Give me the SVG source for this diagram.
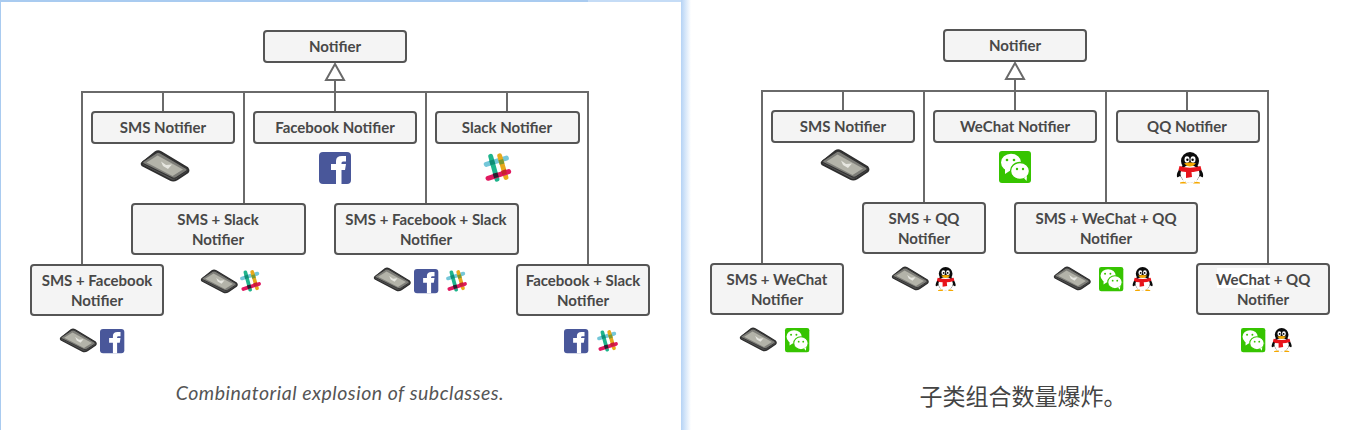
<svg xmlns="http://www.w3.org/2000/svg" xmlns:xlink="http://www.w3.org/1999/xlink" width="1359" height="430" viewBox="0 0 1359 430">
<style>
text{font-family:"Lato","Noto Sans","Noto Sans CJK SC",sans-serif}
.b{fill:#f4f4f4;stroke:#555;stroke-width:2}
.t{font-size:15px;font-weight:700;fill:#484848;text-anchor:middle}
.l{fill:none;stroke:#6a6a6a;stroke-width:2}
.a{fill:#fff;stroke:#6a6a6a;stroke-width:2}
</style>
<defs>
<linearGradient id="gr" x1="0" x2="1" y1="0" y2="0"><stop offset="0" stop-color="#b5d3f5"/><stop offset="1" stop-color="#fff"/></linearGradient>
<symbol id="phone" overflow="visible" viewBox="-24 -15 48 30" width="48" height="30">
<path d="M-23,-3 L-9.500,-14 Q-7,-15.500 -4,-14 L22.500,2 Q24.500,4.500 22.500,6.500 L12,13.500 Q8.500,15.500 5.500,14 L-22.500,-.5 Q-24,-2 -23,-3 Z" fill="#555" stroke="#2e2e2e" stroke-width="1.800"/>
<path d="M-22,-4.500 L-9,-13 Q-7,-14.500 -4.500,-13 L21.500,2.500 Q23,4 21.500,5 L11.500,11.500 Q9,13 6.500,11.500 L-22,-2.500 Q-23,-3.500 -22,-4.500 Z" fill="#7d7d78" stroke="#333" stroke-width="1.200"/>
<path d="M-18.500,-3.500 L-7.500,-10.500 L18,3.500 L7.500,10 Z" fill="#b3b3a9"/>
<path d="M-4,-4.500 L1,-1 L7,-1.500 L3,3 L-2,0 Z" fill="#e6e6e0"/>
</symbol>
<symbol id="fb" overflow="visible" viewBox="-16 -16 32 32" width="32" height="32">
<rect x="-16" y="-16" width="32" height="32" rx="4" fill="#49579a"/>
<path d="M1,16 V2 H-4 V-4 H1 V-7 Q1,-12 7,-12 H11 V-6.500 H8 Q6.500,-6.500 6.500,-5 V-4 H11 L10,2 H6.500 V16 Z" fill="#fff"/>
</symbol>
<symbol id="slack" overflow="visible" viewBox="-16 -16 32 32" width="32" height="32">
<g transform="scale(.9)">
<g stroke-width="5.400" stroke-linecap="round" fill="none">
<line x1="-12" y1="-4" x2="10.500" y2="-11" stroke="#74c7d9"/>
<line x1="-7" y1="-13" x2="0" y2="12.500" stroke="#1eb48c"/>
<line x1="3" y1="-13.500" x2="10" y2="10.500" stroke="#e8a91c"/>
<line x1="-10" y1="11.500" x2="13" y2="4" stroke="#e0195f"/>
</g>
<path d="M-8.600,-8 L-3.500,-9.500 L-2,-4.500 L-7.200,-3 Z" fill="#0f8d75"/>
<path d="M1.600,-8.500 L6.800,-10 L8.200,-5 L3,-3.500 Z" fill="#7d9a2f"/>
<path d="M-4.800,6.500 L.5,5 L2,10 L-3.200,11.500 Z" fill="#2a2030"/>
<path d="M4.500,3.200 L9.800,1.500 L11,6 L6,7.800 Z" fill="#c8222e"/>
</g>
</symbol>
<symbol id="wc" overflow="visible" viewBox="-16 -16 32 32" width="32" height="32">
<rect x="-16" y="-16" width="32" height="32" rx="3" fill="#36c400"/>
<ellipse cx="-4" cy="-4.500" rx="10" ry="8.700" fill="#fff"/>
<path d="M-10,1 L-10,7 L-4,3 Z" fill="#fff"/>
<ellipse cx="5" cy="4" rx="9.500" ry="8.500" fill="#fff" stroke="#36c400" stroke-width="1.400"/>
<path d="M9,11 L11.500,14 L12,9 Z" fill="#fff"/>
<g fill="#36c400"><circle cx="-8" cy="-7" r="1.300"/><circle cx="-1" cy="-7" r="1.300"/><circle cx="2" cy="2" r="1.200"/><circle cx="8" cy="2" r="1.200"/></g>
</symbol>
<symbol id="qq" overflow="visible" viewBox="-14 -16 28 32" width="28" height="32">
<ellipse cx="0" cy="-7" rx="9" ry="9" fill="#0b0b0b"/>
<ellipse cx="0" cy="4.500" rx="10.500" ry="10" fill="#0b0b0b"/>
<path d="M-9,-1 Q-14,5 -13,9 Q-11,10 -8,6 Z M9,-1 Q14,5 13,9 Q11,10 8,6 Z" fill="#0b0b0b"/>
<ellipse cx="0" cy="6" rx="9.500" ry="9" fill="#fff"/>
<ellipse cx="-3" cy="-8.500" rx="2.500" ry="3.200" fill="#fff"/><ellipse cx="3" cy="-8.500" rx="2.500" ry="3.200" fill="#fff"/>
<circle cx="-2.600" cy="-8.200" r="1.200" fill="#000"/><circle cx="2.600" cy="-8.200" r="1.200" fill="#000"/>
<path d="M-6,-4.500 Q0,-6.500 6,-4.500 Q3,-1.500 0,-1.500 Q-3,-1.500 -6,-4.500 Z" fill="#f5a800"/>
<path d="M-10.500,-2 Q0,1.500 10.500,-2 L11.500,2 Q5,4 1.500,4 L2,9 L-4,10 L-4,4 Q-9,4 -11.500,2 Z" fill="#e8141c"/>
<path d="M-10,14.500 Q-5,12.500 -3,15.500 H-10 Z M10,14.500 Q5,12.500 3,15.500 H10 Z" fill="#f5a800"/>
</symbol>
</defs>
<rect width="1359" height="430" fill="#fff"/>
<g id="panel">
<rect x="0" y="0" width="588" height="2" fill="#a9cbf0"/>
<rect x="588" y="0" width="93" height="2" fill="#c5dcf6"/>
<rect x="0" y="0" width="1" height="430" fill="#a9cbf0"/>
<rect x="681" y="0" width="10" height="430" fill="url(#gr)"/>
</g>
<g id="connectors">
<path class="l" d="M82,265 V92 H588 V265 M163,92 V112 M244,92 V204 M335,80 V112 M426,92 V204 M507,92 V112"/>
<path class="a" d="M335,64 L344,80 H326 Z"/>
<path class="l" d="M762,264 V91 H1268 V264 M843,91 V111 M924,91 V203 M1015,79 V111 M1106,91 V203 M1187,91 V111"/>
<path class="a" d="M1015,63 L1024,79 H1006 Z"/>
</g>
<g id="n-notifier"><rect class="b" x="264" y="31" width="142" height="31" rx="3"/><text class="t" x="335" y="52">Notifier</text></g>
<g id="n-sms"><rect class="b" x="92" y="112" width="142" height="31" rx="3"/><text class="t" x="163" y="133">SMS Notifier</text><use href="#phone" x="141" y="151"/></g>
<g id="n-facebook"><rect class="b" x="254" y="112" width="162" height="31" rx="3"/><text class="t" x="335" y="133">Facebook Notifier</text><use href="#fb" x="319" y="152"/></g>
<g id="n-slack"><rect class="b" x="436" y="112" width="143" height="31" rx="3"/><text class="t" x="507" y="133">Slack Notifier</text><use href="#slack" x="481" y="152"/></g>
<g id="n-sms-slack"><rect class="b" x="132" y="204" width="173" height="50" rx="3"/><text class="t" x="218" y="225">SMS + Slack</text><text class="t" x="218" y="245">Notifier</text>
<use href="#phone" transform="translate(201,270) scale(.76)"/><use href="#slack" transform="translate(238,269) scale(.76)"/></g>
<g id="n-sms-fb-slack"><rect class="b" x="335" y="204" width="183" height="50" rx="3"/><text class="t" x="426" y="225">SMS + Facebook + Slack</text><text class="t" x="426" y="245">Notifier</text>
<use href="#phone" transform="translate(374,268) scale(.76)"/><use href="#fb" transform="translate(414,269) scale(.76)"/><use href="#slack" transform="translate(444,269) scale(.76)"/></g>
<g id="n-sms-fb"><rect class="b" x="31" y="265" width="132" height="50" rx="3"/><text class="t" x="97" y="286">SMS + Facebook</text><text class="t" x="97" y="306">Notifier</text>
<use href="#phone" transform="translate(60,329) scale(.76)"/><use href="#fb" transform="translate(100,329) scale(.76)"/></g>
<g id="n-fb-slack"><rect class="b" x="517" y="265" width="132" height="50" rx="3"/><text class="t" x="583" y="286">Facebook + Slack</text><text class="t" x="583" y="306">Notifier</text>
<use href="#fb" transform="translate(564,329) scale(.76)"/><use href="#slack" transform="translate(595,329) scale(.76)"/></g>
<text x="340" y="400" text-anchor="middle" font-size="19.500" letter-spacing=".5" font-style="italic" fill="#555">Combinatorial explosion of subclasses.</text>

<g id="m-notifier"><rect class="b" x="944" y="30" width="142" height="31" rx="3"/><text class="t" x="1015" y="51">Notifier</text></g>
<g id="m-sms"><rect class="b" x="772" y="111" width="142" height="31" rx="3"/><text class="t" x="843" y="132">SMS Notifier</text><use href="#phone" x="821" y="150"/></g>
<g id="m-wechat"><rect class="b" x="934" y="111" width="162" height="31" rx="3"/><text class="t" x="1015" y="132">WeChat Notifier</text><use href="#wc" x="999" y="151"/></g>
<g id="m-qq"><rect class="b" x="1117" y="111" width="142" height="31" rx="3"/><text class="t" x="1187" y="132">QQ Notifier</text><use href="#qq" x="1176" y="152"/></g>
<g id="m-sms-qq"><rect class="b" x="863" y="203" width="122" height="50" rx="3"/><text class="t" x="924" y="224">SMS + QQ</text><text class="t" x="924" y="244">Notifier</text>
<use href="#phone" transform="translate(892,267) scale(.76)"/><use href="#qq" transform="translate(935,267) scale(.76)"/></g>
<g id="m-sms-wc-qq"><rect class="b" x="1015" y="203" width="182" height="50" rx="3"/><text class="t" x="1106" y="224">SMS + WeChat + QQ</text><text class="t" x="1106" y="244">Notifier</text>
<use href="#phone" transform="translate(1054,267) scale(.76)"/><use href="#wc" transform="translate(1099,267) scale(.76)"/><use href="#qq" transform="translate(1132,267) scale(.76)"/></g>
<g id="m-sms-wc"><rect class="b" x="711" y="264" width="132" height="50" rx="3"/><text class="t" x="777" y="285">SMS + WeChat</text><text class="t" x="777" y="305">Notifier</text>
<use href="#phone" transform="translate(740,328) scale(.76)"/><use href="#wc" transform="translate(785,328) scale(.76)"/></g>
<g id="m-wc-qq"><rect class="b" x="1197" y="264" width="132" height="50" rx="3"/><rect x="1217" y="268" width="53" height="20" fill="#fff"/><text class="t" x="1263" y="285">WeChat + QQ</text><text class="t" x="1263" y="305">Notifier</text>
<use href="#wc" transform="translate(1241,328) scale(.76)"/><use href="#qq" transform="translate(1271,328) scale(.76)"/></g>
<text x="1023" y="405" text-anchor="middle" font-size="23" fill="#444" style="font-family:'Noto Sans CJK SC',sans-serif">子类组合数量爆炸。</text>
</svg>
